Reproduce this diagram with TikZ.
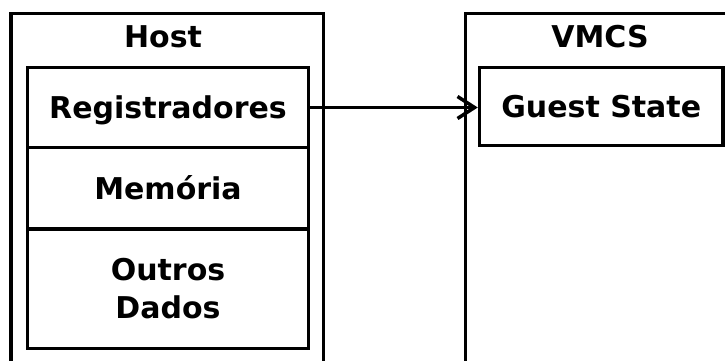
\documentclass[tikz,border=0pt]{standalone}
\usepackage{fontspec}
\setmainfont{DejaVu Sans}
\usetikzlibrary{arrows.meta}
\begin{document}
\begin{tikzpicture}[x=1pt,y=-1pt,
  every node/.style={font=\fontsize{30}{37.7}\selectfont\bfseries},
  frame/.style={draw=black,line width=3.5pt,inner sep=0pt},
  cell/.style={draw=black,line width=3.5pt,inner sep=0pt,text height=30pt,text depth=8.1pt},
  link/.style={draw=black,line width=3.5pt,-{Straight Barb[length=17pt,width=22pt,line width=3.5pt]}}]
\useasboundingbox (0,0) rectangle (725,360);
\clip (0,0) rectangle (725,360);
\node[frame,minimum width=312.5pt,minimum height=386.5pt] (host) at (167.25,206.75) {};
\node[frame,minimum width=274.5pt,minimum height=386.5pt] (vmcs) at (602.75,206.75) {};
\node[anchor=base] (hostt) at (163,47.7) {Host};
\node[anchor=base] (vmcst) at (600,47.7) {VMCS};
\node[cell,minimum width=281pt,minimum height=80pt] (reg) at (168,107.5) {Registradores};
\node[cell,minimum width=281pt,minimum height=81.5pt] (mem) at (168,188.25) {Memória};
\node[frame,align=center,minimum width=281pt,minimum height=119.5pt] (out) at (168,288.75) {Outros\\Dados};
\node[cell,minimum width=243.5pt,minimum height=78pt] (gs) at (601.25,106.5) {Guest State};
\draw[link] (reg.east) -- (reg.east -| gs.west);
\end{tikzpicture}
\end{document}
